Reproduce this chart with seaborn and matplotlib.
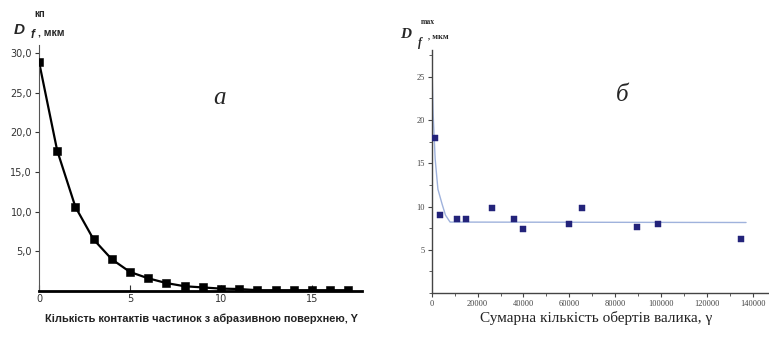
import matplotlib
matplotlib.use("Agg")
import matplotlib.pyplot as plt
from matplotlib.ticker import MultipleLocator, FuncFormatter
import seaborn as sns
import pandas as pd

# ---- data, panel a ----
contacts = list(range(18))
diam_a = [28.9, 17.7, 10.6, 6.5, 4.0, 2.4, 1.6, 1.0, 0.6, 0.45, 0.3, 0.25,
          0.1, 0.1, 0.1, 0.1, 0.1, 0.1]

# ---- data, panel b ----
turns = [1450, 3600, 10900, 14900, 26100, 35800, 39600, 59800, 65700, 89600, 98700, 134800]
diam_b = [17.9, 9.0, 8.5, 8.5, 9.8, 8.5, 7.4, 8.0, 9.8, 7.6, 8.0, 6.2]
fit_turns = [0, 300, 600, 1500, 2700, 4500, 6000, 8000, 137000]
fit_diam = [28.0, 24.0, 20.8, 15.5, 12.0, 10.3, 9.0, 8.2, 8.15]

x_label_a = "Кількість контактів частинок з абразивною поверхнею, Y"
x_label_b = "Сумарна кількість обертів валика, γ"

sns.set_style("ticks")
plt.rcParams['font.family'] = ['DejaVu Sans']

fig = plt.figure(figsize=(7.69, 3.37), dpi=100)

df_a = pd.DataFrame({"x": contacts, "y": diam_a})
df_b = pd.DataFrame({"x": turns, "y": diam_b})
df_fit = pd.DataFrame({"x": fit_turns, "y": fit_diam})

# ---------- panel a ----------
ax1 = fig.add_axes([0.0507, 0.1365, 0.42, 0.730])
sns.lineplot(data=df_a, x="x", y="y", ax=ax1, color="black", linewidth=1.6)
sns.scatterplot(data=df_a, x="x", y="y", ax=ax1, marker="s", color="black",
                s=26, edgecolor="black", zorder=5)
ax1.set_xlim(0, 17.75)
ax1.set_ylim(0, 31)
ax1.xaxis.set_major_locator(MultipleLocator(5))
ax1.set_yticks([5, 10, 15, 20, 25, 30])
ax1.yaxis.set_major_formatter(FuncFormatter(lambda v, p: f"{v:.1f}".replace(".", ",")))
ax1.set_xlabel("")
ax1.set_ylabel("")
for s in ("top", "right"):
    ax1.spines[s].set_visible(False)
ax1.spines["bottom"].set_linewidth(2.0)
ax1.spines["bottom"].set_color("black")
ax1.spines["left"].set_linewidth(0.8)
ax1.spines["left"].set_color("#555555")
ax1.tick_params(axis="both", labelsize=7, length=3, width=0.8, colors="#333333", pad=2)
ax1.tick_params(axis="x", direction="in", length=4)
ax1.text(0.54, 0.76, "а", transform=ax1.transAxes, fontsize=18,
         family="Liberation Serif", style="italic")

# ---------- panel b ----------
ax2 = fig.add_axes([0.5614, 0.1306, 0.4386, 0.7211])
sns.lineplot(data=df_fit, x="x", y="y", ax=ax2, color="#9fb2dc", linewidth=1.0)
sns.scatterplot(data=df_b, x="x", y="y", ax=ax2, marker="s", color="#23237a",
                s=16, edgecolor="#23237a", zorder=5)
ax2.set_xlim(0, 147000)
ax2.set_ylim(0, 28.1)
ax2.set_xticks([0, 20000, 40000, 60000, 80000, 100000, 120000, 140000])
ax2.xaxis.set_minor_locator(MultipleLocator(10000))
ax2.set_yticks([5, 10, 15, 20, 25])
ax2.yaxis.set_minor_locator(MultipleLocator(2.5))
ax2.set_xlabel("")
ax2.set_ylabel("")
for s in ("top", "right"):
    ax2.spines[s].set_visible(False)
for s in ("bottom", "left"):
    ax2.spines[s].set_linewidth(1.0)
    ax2.spines[s].set_color("#444444")
ax2.tick_params(axis="both", which="major", labelsize=6, length=3, width=0.8,
                colors="#444444", pad=2)
ax2.tick_params(axis="both", which="minor", length=2, width=0.6, colors="#444444")
for lbl in ax2.get_xticklabels() + ax2.get_yticklabels():
    lbl.set_family("Liberation Serif")
ax2.text(0.545, 0.79, "б", transform=ax2.transAxes, fontsize=18,
         family="Liberation Serif", style="italic")

# ---------- axis titles ----------
fig.text(0.262, 0.055, x_label_a, ha="center", va="center", fontsize=7.9,
         family="Liberation Sans", weight="bold", color="#222222")
fig.text(0.775, 0.057, x_label_b, ha="center", va="center", fontsize=11,
         family="Liberation Serif", color="#222222")

# y-axis titles (composite)
fig.text(0.018, 0.912, "D", fontsize=11, weight="bold", style="italic",
         family="Liberation Sans", ha="left", va="center")
fig.text(0.040, 0.897, "f", fontsize=8.5, weight="bold", style="italic",
         family="Liberation Sans", ha="left", va="center")
fig.text(0.045, 0.958, "кп", fontsize=7, weight="bold",
         family="Liberation Sans", ha="left", va="center")
fig.text(0.050, 0.905, ", мкм", fontsize=7.5, weight="bold",
         family="Liberation Sans", ha="left", va="center")

fig.text(0.520, 0.898, "D", fontsize=11, weight="bold", style="italic",
         family="Liberation Serif", ha="left", va="center")
fig.text(0.543, 0.872, "f", fontsize=8.5, weight="bold", style="italic",
         family="Liberation Serif", ha="left", va="center")
fig.text(0.547, 0.935, "max", fontsize=5.5, weight="bold",
         family="Liberation Serif", ha="left", va="center")
fig.text(0.556, 0.893, ", мкм", fontsize=6, weight="bold",
         family="Liberation Serif", ha="left", va="center")

fig.savefig("out.png", dpi=100)
